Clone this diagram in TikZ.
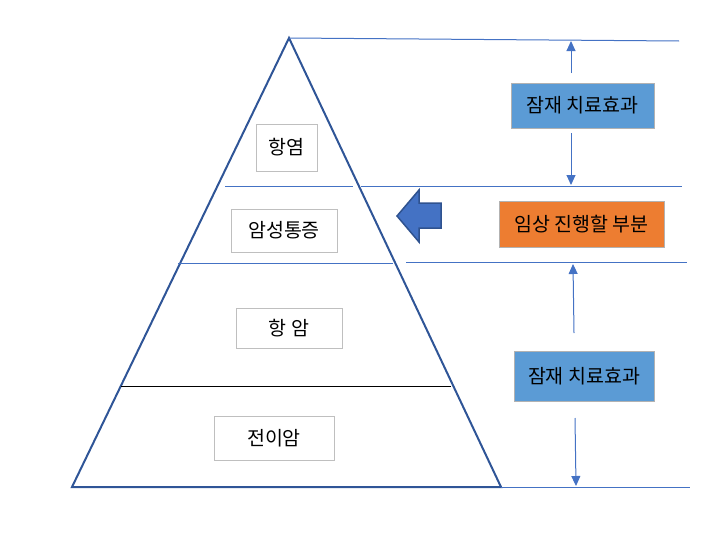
\documentclass[tikz,border=0pt]{standalone}
\usepackage{fontspec}
\newfontfamily\cjk{Noto Sans CJK KR}
\usetikzlibrary{arrows.meta}
\definecolor{tri}{HTML}{2F5597}
\definecolor{ln}{HTML}{4472C4}
\definecolor{bx}{HTML}{5B9BD5}
\definecolor{og}{HTML}{ED7D31}
\definecolor{ed}{HTML}{2F528F}

\begin{document}
\begin{tikzpicture}[x=1pt,y=-1pt,>={Triangle[width=9pt,length=10pt]},
    lbl/.style={draw=black!25,line width=1pt,fill=white,inner sep=0pt,font=\cjk\fontsize{19.5}{22}\selectfont},
    eff/.style={lbl,draw=black!30,fill=bx},
    thin/.style={ln,line width=1pt}]
                        \useasboundingbox (0,0) rectangle (717,546);
                        % pyramid
                        \coordinate (apex) at (289,38);
                        \coordinate (bl) at (72,487);
                        \coordinate (br) at (501,487);
                        \draw[tri,line width=2pt,line join=miter] (apex) -- (br) -- (bl) -- cycle;
                        \draw[line width=1pt] (121,386) -- (451,386);
                        % levels
                        \draw[thin] (apex) -- (679,41);
                        \draw[thin] (225,186) -- (353,186);
                        \draw[thin] (361,186) -- (682,186);
                        \draw[thin] (178,263) -- (393,263);
                        \draw[thin] (406,262) -- (687,262);
                        \draw[thin] (br) -- (690,487);
                        % labels
                        \node[lbl,minimum width=61pt,minimum height=47pt] (hy) at (286.5,147.5) {항염};
                        \node[lbl,minimum width=106pt,minimum height=43pt] (pain) at (284,230.5) {암성통증};
                        \node[lbl,minimum width=106pt,minimum height=40pt] (anti) at (289,328) {항 암};
                        \node[lbl,minimum width=120pt,minimum height=44pt] (meta) at (274,438) {전이암};
                        \node[eff,minimum width=143pt,minimum height=45pt] (pa) at (582.5,105.5) {잠재 치료효과};
                        \node[lbl,draw=black!30,fill=og,minimum width=165pt,minimum height=46pt] (clin) at (581.5,224) {임상 진행할 부분};
                        \node[eff,minimum width=140pt,minimum height=50pt] (pb) at (584,376) {잠재 치료효과};
                        % arrows
                        \coordinate (a1) at (571,73); \coordinate (a2) at (571,41);
                        \coordinate (a3) at (571,133); \coordinate (a4) at (571,185);
                        \coordinate (b1) at (574,333); \coordinate (b2) at (573,264);
                        \coordinate (b3) at (575,418); \coordinate (b4) at (576,486);
                        \draw[thin,->] (a1) -- (a2);
                        \draw[thin,->] (a3) -- (a4);
                        \draw[thin,->] (b1) -- (b2);
                        \draw[thin,->] (b3) -- (b4);
                        \fill[ln,draw=ed,line width=1.5pt] (397,216) -- (419,190) -- (419,203) -- (441,203)
                            -- (441,228) -- (419,228) -- (419,242) -- cycle;
                    \end{tikzpicture}
\end{document}
